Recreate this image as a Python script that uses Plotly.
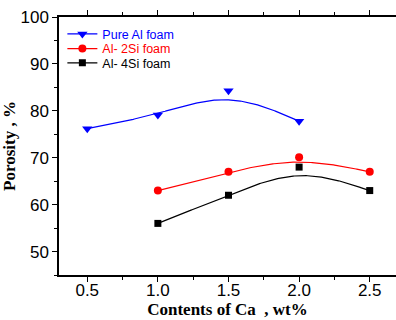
import numpy as np
import plotly.graph_objects as go

# ---- data ----
x_pure = [0.5, 1.0, 1.5, 2.0]
y_pure = [76.2, 79.1, 84.3, 77.8]
x_2si = [1.0, 1.5, 2.0, 2.5]
y_2si = [63.0, 67.0, 70.1, 67.0]
x_4si = [1.0, 1.5, 2.0, 2.5]
y_4si = [56.0, 62.0, 68.0, 63.0]
names = ["Pure Al foam", "Al- 2Si foam", "Al- 4Si foam"]
colors = ["#0000ff", "#ff0000", "#000000"]
symbols = ["triangle-down", "circle", "square"]
x_ticks = [0.5, 1.0, 1.5, 2.0, 2.5]
y_ticks = [50, 60, 70, 80, 90, 100]


def bspline3(xs, ys, n=60):
    """Uniform cubic B-spline with the data as control points (end points tripled)."""
    P = np.column_stack([xs, ys]).astype(float)
    Q = np.vstack([P[0], P[0], P, P[-1], P[-1]])
    t = np.linspace(0, 1, n)[:, None]
    b0 = (1 - t) ** 3 / 6
    b1 = (3 * t ** 3 - 6 * t ** 2 + 4) / 6
    b2 = (-3 * t ** 3 + 3 * t ** 2 + 3 * t + 1) / 6
    b3 = t ** 3 / 6
    out = [b0 * Q[i] + b1 * Q[i + 1] + b2 * Q[i + 2] + b3 * Q[i + 3] for i in range(len(Q) - 3)]
    pts = np.vstack(out)
    return pts[:, 0], pts[:, 1]


fig = go.Figure()
series = [(x_pure, y_pure), (x_2si, y_2si), (x_4si, y_4si)]
msize = [9, 8, 7]
legend_ids = ["legend", "legend2", "legend3"]
for (xs, ys), nm, col, sym, ms, lg in zip(series, names, colors, symbols, msize, legend_ids):
    cx, cy = bspline3(xs, ys)
    fig.add_trace(go.Scatter(x=cx, y=cy, mode="lines", line=dict(color=col, width=1.2),
                             showlegend=False, hoverinfo="skip"))
    fig.add_trace(go.Scatter(x=xs, y=ys, mode="markers",
                             marker=dict(color=col, symbol=sym, size=ms, line=dict(width=0)),
                             showlegend=False))
    fig.add_trace(go.Scatter(x=[None], y=[None], mode="lines+markers", legend=lg,
                             name=f'<span style="color:{col}">{nm}</span>',
                             line=dict(color=col, width=1.2),
                             marker=dict(color=col, symbol=sym, size=ms, line=dict(width=0))))

leg_common = dict(x=0.01, xanchor="left", yanchor="middle", bgcolor="rgba(0,0,0,0)",
                  font=dict(size=12.5), itemwidth=30)
fig.update_layout(
    legend=dict(y=0.933, **leg_common),
    legend2=dict(y=0.876, **leg_common),
    legend3=dict(y=0.821, **leg_common),
)

fig.update_layout(
    width=396, height=320,
    margin=dict(l=59, r=0, t=17, b=45),
    paper_bgcolor="white", plot_bgcolor="white",
    font=dict(family="Liberation Sans, Arial, sans-serif", size=17, color="black"),
    xaxis=dict(range=[0.3, 2.686], tickvals=x_ticks, ticktext=[f"{v:.1f}" for v in x_ticks],
               showline=True, linecolor="black", linewidth=1.5, mirror="ticks",
               ticks="outside", ticklen=5, tickwidth=1.2, tickcolor="black",
               ticklabelstandoff=-6,
               minor=dict(dtick=0.25, tick0=0.25, ticks="outside", ticklen=3, tickwidth=1.2, tickcolor="black"),
               showgrid=False, zeroline=False,
               title=dict(text="<b>Contents of Ca  , wt%</b>", standoff=0,
                          font=dict(family="Liberation Serif, Times New Roman, serif", size=17))),
    yaxis=dict(range=[45, 100], tickvals=y_ticks,
               showline=True, linecolor="black", linewidth=1.5,
               ticks="outside", ticklen=5, tickwidth=1.2, tickcolor="black",
               minor=dict(dtick=5, tick0=0, ticks="outside", ticklen=3, tickwidth=1.2, tickcolor="black"),
               showgrid=False, zeroline=False,
               title=dict(text="<b>Porosity , %</b>", standoff=2,
                          font=dict(family="Liberation Serif, Times New Roman, serif", size=17))),
)

fig.write_html("out.html")
